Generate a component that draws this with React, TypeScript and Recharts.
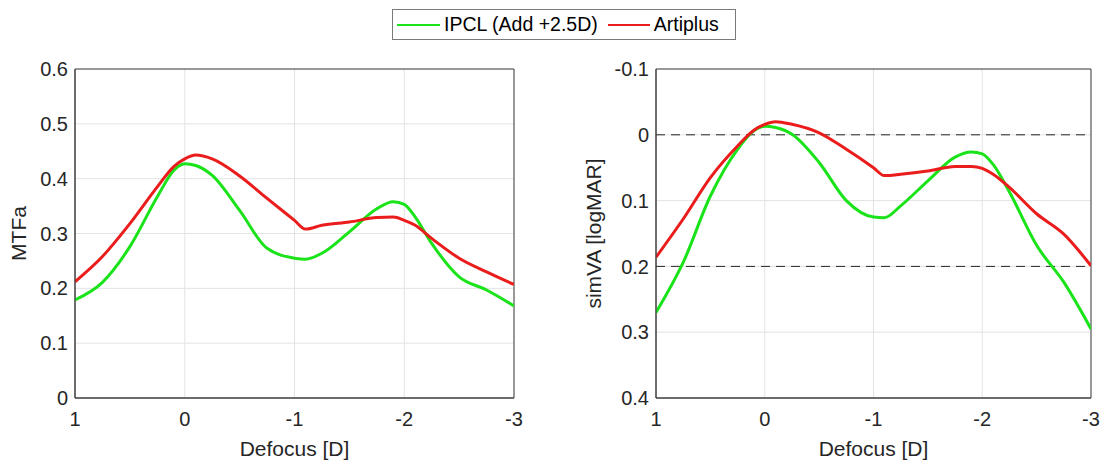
import {
  LineChart, Line, CartesianGrid, XAxis, YAxis, ReferenceArea, ReferenceLine, Label,
} from 'recharts'

const defocus = [1, 0.75, 0.5, 0.25, 0.1, 0, -0.1, -0.25, -0.5, -0.75, -1, -1.1, -1.25, -1.5, -1.75, -1.9, -2, -2.1, -2.25, -2.5, -2.75, -3]

const mtfIpcl = [0.179, 0.211, 0.276, 0.367, 0.415, 0.427, 0.424, 0.406, 0.342, 0.273, 0.255, 0.253, 0.264, 0.303, 0.345, 0.358, 0.353, 0.330, 0.282, 0.221, 0.197, 0.168]
const mtfArtiplus = [0.212, 0.258, 0.318, 0.385, 0.422, 0.436, 0.443, 0.436, 0.405, 0.364, 0.324, 0.308, 0.315, 0.321, 0.329, 0.330, 0.324, 0.315, 0.291, 0.255, 0.230, 0.207]

const vaIpcl = [0.270, 0.194, 0.093, 0.022, -0.006, -0.013, -0.011, -0.001, 0.042, 0.100, 0.125, 0.126, 0.108, 0.070, 0.034, 0.026, 0.029, 0.045, 0.087, 0.168, 0.224, 0.295]
const vaArtiplus = [0.186, 0.128, 0.065, 0.017, -0.007, -0.016, -0.020, -0.016, -0.003, 0.022, 0.050, 0.062, 0.060, 0.055, 0.048, 0.048, 0.051, 0.060, 0.080, 0.120, 0.151, 0.199]

const xTicks = [1, 0, -1, -2, -3]
const mtfTicks = [0, 0.1, 0.2, 0.3, 0.4, 0.5, 0.6]
const vaTicks = [-0.1, 0, 0.1, 0.2, 0.3, 0.4]

const seriesNames = ['IPCL (Add +2.5D)', 'Artiplus']
const GREEN = '#1ae31a'
const RED = '#ea1c1c'
const AXIS = '#404040'
const FONT = '"Liberation Sans", Arial, sans-serif'

const mtfData = defocus.map((d, i) => ({ defocus: d, ipcl: mtfIpcl[i], artiplus: mtfArtiplus[i] }))
const vaData = defocus.map((d, i) => ({ defocus: d, ipcl: vaIpcl[i], artiplus: vaArtiplus[i] }))

const tickStyle = { fill: '#262626', fontSize: 20, fontFamily: FONT }

function Panel({ data, yTicks, yDomain, yLabel, reversedY, yWidth, rightMargin, labelDx, dashed }: any) {
  return (
    <LineChart
      width={yWidth === 75 ? 550 : 551}
      height={466}
      data={data}
      margin={{ top: 69, right: rightMargin, left: 0, bottom: 8 }}
    >
      <CartesianGrid stroke="#e3e3e3" strokeWidth={1} />
      <XAxis
        type="number"
        dataKey="defocus"
        domain={[-3, 1]}
        reversed
        ticks={xTicks}
        height={60}
        tickLine={false}
        tickSize={0}
        tickMargin={14}
        axisLine={{ stroke: AXIS }}
        tick={tickStyle}
        allowDataOverflow
      >
        <Label value="Defocus [D]" position="center" dy={21} style={{ fill: '#262626', fontSize: 21, fontFamily: FONT }} />
      </XAxis>
      <YAxis
        type="number"
        domain={yDomain}
        ticks={yTicks}
        reversed={reversedY}
        width={yWidth}
        tickLine={false}
        tickSize={0}
        tickMargin={7}
        axisLine={{ stroke: AXIS }}
        tick={tickStyle}
        allowDataOverflow
      >
        <Label value={yLabel} position="center" angle={-90} dx={labelDx} style={{ fill: '#262626', fontSize: 21, fontFamily: FONT, textAnchor: 'middle' }} />
      </YAxis>
      <ReferenceArea x1={1} x2={-3} y1={yDomain[0]} y2={yDomain[1]} fill="none" stroke={AXIS} strokeWidth={1} ifOverflow="visible" />
      {dashed && dashed.map((v: number) => (
        <ReferenceLine key={v} y={v} stroke="#262626" strokeDasharray="9 6" strokeWidth={1} />
      ))}
      <Line type="monotone" dataKey="ipcl" stroke={GREEN} strokeWidth={3} dot={false} isAnimationActive={false} />
      <Line type="monotone" dataKey="artiplus" stroke={RED} strokeWidth={3} dot={false} isAnimationActive={false} />
    </LineChart>
  )
}

export default function App() {
  return (
    <div style={{ position: 'absolute', left: 0, top: 0, width: 1101, height: 466, background: '#fff', fontFamily: FONT }}>
      <div style={{ position: 'absolute', left: 0, top: 0 }}>
        <Panel data={mtfData} yTicks={mtfTicks} yDomain={[0, 0.6]} yLabel="MTFa" reversedY={false}
          yWidth={75} rightMargin={36} labelDx={-19} />
      </div>
      <div style={{ position: 'absolute', left: 550, top: 0 }}>
        <Panel data={vaData} yTicks={vaTicks} yDomain={[-0.1, 0.4]} yLabel="simVA [logMAR]" reversedY
          yWidth={106} rightMargin={10} labelDx={-9} dashed={[0, 0.2]} />
      </div>
      <div style={{
        position: 'absolute', left: 392, top: 9, width: 344, height: 31, border: '1px solid #7a7a7a',
        background: '#fff', display: 'flex', alignItems: 'center', fontSize: 19.5, color: '#000', boxSizing: 'border-box',
        whiteSpace: 'nowrap',
      }}>
        <span style={{ display: 'inline-block', width: 43, height: 2, background: GREEN, marginLeft: 4 }} />
        <span style={{ marginLeft: 4 }}>{seriesNames[0]}</span>
        <span style={{ display: 'inline-block', width: 42, height: 2, background: RED, marginLeft: 10 }} />
        <span style={{ marginLeft: 4 }}>{seriesNames[1]}</span>
      </div>
    </div>
  )
}
